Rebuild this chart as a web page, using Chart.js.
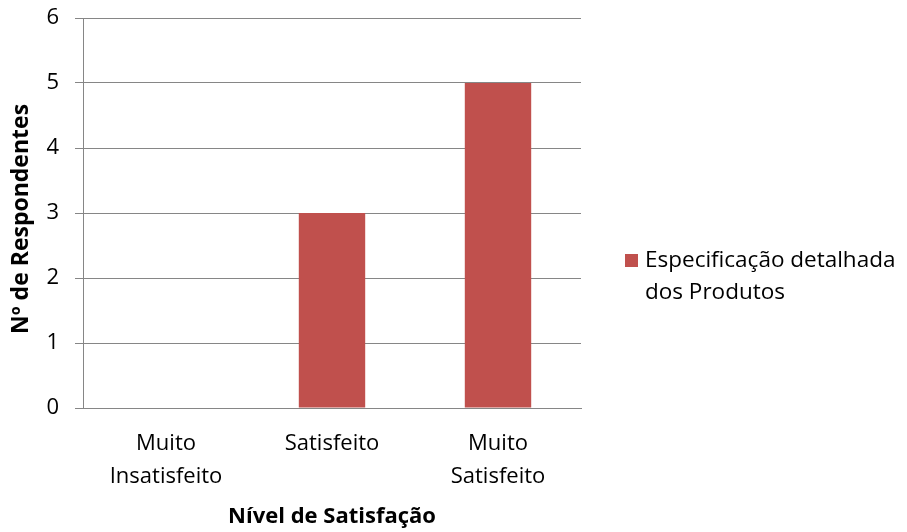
<!DOCTYPE html>
<html>
<head>
<meta charset="utf-8">
<script src="https://cdn.jsdelivr.net/npm/chart.js@4.4.0/dist/chart.umd.min.js"></script>
<style>
  html, body { margin: 0; padding: 0; background: #fff; }
  #wrap { width: 907px; height: 532px; position: relative; }
</style>
</head>
<body>
<div id="wrap"><canvas id="chart"></canvas></div>
<script>
// --- dados do gráfico ---
const categorias = [['Muito', 'Insatisfeito'], 'Satisfeito', ['Muito', 'Satisfeito']];
const respondentes = [0, 3, 5];
const serieNome = ['Especificação detalhada', 'dos Produtos'];
const eixoY = { min: 0, max: 6, passo: 1 };

const FONTE = '"Open Sans", "Noto Sans", sans-serif';
const COR_BARRA = '#C0504D';
const COR_GRADE = '#868686';

// legenda desenhada à mão (texto em duas linhas)
const legendaLateral = {
    id: 'legendaLateral',
    afterDraw: (chart) => {
        const ctx = chart.ctx;
        const ds = chart.data.datasets[0];
        ctx.save();
        ctx.fillStyle = ds.backgroundColor;
        ctx.fillRect(625, 254, 13, 13);
        ctx.fillStyle = '#000';
        ctx.font = `22.5px ${FONTE}`;
        ctx.textBaseline = 'middle';
        ctx.textAlign = 'left';
        serieNome.forEach((linha, i) => ctx.fillText(linha, 645, 261 + i * 32));
        ctx.restore();
    }
};

const ctx = document.getElementById('chart').getContext('2d');
new Chart(ctx, {
    type: 'bar',
    data: {
        labels: categorias,
        datasets: [{
            label: serieNome.join(' '),
            data: respondentes,
            backgroundColor: COR_BARRA,
            borderWidth: 0,
            barPercentage: 0.4,
            categoryPercentage: 1
        }]
    },
    options: {
        responsive: true,
        maintainAspectRatio: false,
        animation: false,
        layout: { padding: { top: 18, right: 326, left: 0, bottom: 0 } },
        plugins: {
            legend: { display: false },
            tooltip: { enabled: false }
        },
        scales: {
            x: {
                grid: { display: false, drawTicks: false },
                border: { display: true, color: COR_GRADE, width: 1 },
                ticks: {
                    color: '#000',
                    padding: 19,
                    maxRotation: 0,
                    font: { family: FONTE, size: 22, lineHeight: 1.5 }
                },
                title: {
                    display: true,
                    text: 'Nível de Satisfação',
                    color: '#000',
                    padding: { top: 0, bottom: 2 },
                    font: { family: FONTE, size: 22, weight: 'bold' }
                },
                afterFit: (scale) => {
                    scale.height = 124;
                    scale.paddingLeft = 0;
                    scale.paddingRight = 0;
                }
            },
            y: {
                min: eixoY.min,
                max: eixoY.max,
                ticks: {
                    stepSize: eixoY.passo,
                    color: '#000',
                    padding: 16,
                    font: { family: FONTE, size: 22 }
                },
                grid: { color: COR_GRADE, lineWidth: 1, tickLength: 8 },
                border: { display: true, color: COR_GRADE, width: 1 },
                title: {
                    display: true,
                    text: 'Nº de Respondentes  ',
                    color: '#000',
                    padding: { top: 8, bottom: 0 },
                    font: { family: FONTE, size: 23, weight: 'bold' }
                },
                afterFit: (scale) => {
                    scale.width = 83;
                    scale.paddingTop = 0;
                    scale.paddingBottom = 0;
                }
            }
        }
    },
    plugins: [legendaLateral]
});
</script>
</body>
</html>
